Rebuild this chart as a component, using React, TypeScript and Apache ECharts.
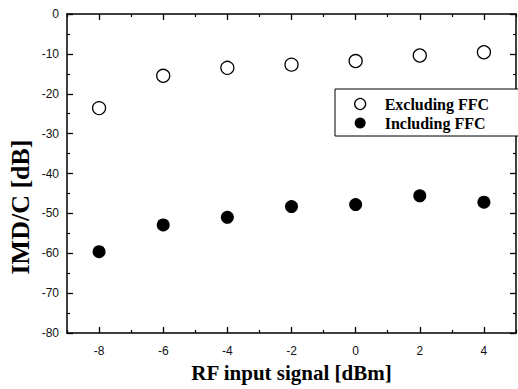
import React, { useEffect, useRef } from "react";
import * as echarts from "echarts";

const xValues = [-8, -6, -4, -2, 0, 2, 4];
const excludingFFC = [-23.6, -15.5, -13.5, -12.7, -11.8, -10.4, -9.6];
const includingFFC = [-59.6, -52.9, -51.0, -48.3, -47.8, -45.6, -47.2];
const xMajorTicks = [-8, -6, -4, -2, 0, 2, 4];
const xMinorTicks = [-9, -7, -5, -3, -1, 1, 3, 5];
const seriesNames = ["Excluding FFC", "Including FFC"];
const xTitle = "RF input signal [dBm]";
const yTitle = "IMD/C [dB]";

export default function App() {
  const ref = useRef<HTMLDivElement>(null);
  useEffect(() => {
    if (!ref.current) return;
    const chart = echarts.init(ref.current, null, { renderer: "svg" });
    const serif = "'Liberation Serif', 'Times New Roman', serif";
    const sans = "'Liberation Sans', Arial, sans-serif";
    const axisLine = { show: true, onZero: false, lineStyle: { color: "#000", width: 1.5 } };
    const noLine = { show: false, onZero: false };
    chart.setOption({
      animation: false,
      backgroundColor: "#fff",
      grid: { left: 67, right: 2, top: 14, bottom: 56, containLabel: false, outerBoundsMode: "none" },
      legend: {
        orient: "vertical",
        left: 335,
        top: 89,
        padding: [7, 30, 5, 19],
        itemGap: 3,
        itemWidth: 11,
        itemHeight: 11,
        borderColor: "#000",
        borderWidth: 1,
        backgroundColor: "#fff",
        textStyle: { fontFamily: serif, fontWeight: "bold", fontSize: 16, color: "#000", padding: [0, 0, 0, 14] },
        data: [
          { name: seriesNames[0], icon: "circle", itemStyle: { color: "#fff", borderColor: "#000", borderWidth: 1.3 } },
          { name: seriesNames[1], icon: "circle", itemStyle: { color: "#000" } },
        ],
      },
      graphic: [
        {
          type: "text",
          x: 20,
          y: 207,
          rotation: Math.PI / 2,
          style: {
            text: yTitle,
            fontFamily: serif,
            fontWeight: "bold",
            fontSize: 26,
            fill: "#000",
            align: "center",
            verticalAlign: "middle",
          },
        },
      ],
      xAxis: [
        {
          type: "value",
          min: -9,
          max: 5,
          position: "bottom",
          axisLine,
          splitLine: { show: false },
          axisTick: { show: true, inside: true, length: 6, customValues: xMajorTicks, lineStyle: { color: "#000", width: 1.3 } },
          axisLabel: { customValues: xMajorTicks, fontFamily: sans, fontSize: 12, color: "#111", margin: 12 },
          name: xTitle,
          nameLocation: "middle",
          nameGap: 29,
          nameTextStyle: { fontFamily: serif, fontWeight: "bold", fontSize: 21, color: "#000" },
        },
        {
          type: "value",
          min: -9,
          max: 5,
          position: "bottom",
          axisLine: noLine,
          splitLine: { show: false },
          axisTick: { show: true, inside: true, length: 3, customValues: xMinorTicks, lineStyle: { color: "#000", width: 1.2 } },
          axisLabel: { show: false },
        },
        {
          type: "value",
          min: -9,
          max: 5,
          position: "top",
          axisLine,
          splitLine: { show: false },
          axisTick: { show: true, inside: true, length: 6, customValues: xMajorTicks, lineStyle: { color: "#000", width: 1.3 } },
          axisLabel: { show: false },
        },
        {
          type: "value",
          min: -9,
          max: 5,
          position: "top",
          axisLine: noLine,
          splitLine: { show: false },
          axisTick: { show: true, inside: true, length: 3, customValues: xMinorTicks, lineStyle: { color: "#000", width: 1.2 } },
          axisLabel: { show: false },
        },
      ],
      yAxis: [
        {
          type: "value",
          min: -80,
          max: 0,
          interval: 10,
          position: "left",
          axisLine,
          splitLine: { show: false },
          axisTick: { show: true, inside: true, length: 6, lineStyle: { color: "#000", width: 1.3 } },
          minorTick: { show: true, splitNumber: 2, length: 3, lineStyle: { color: "#000", width: 1.2 } },
          minorSplitLine: { show: false },
          axisLabel: { fontFamily: sans, fontSize: 12, color: "#111", margin: 8 },
        },
        {
          type: "value",
          min: -80,
          max: 0,
          interval: 10,
          position: "right",
          axisLine,
          splitLine: { show: false },
          axisTick: { show: true, inside: true, length: 6, lineStyle: { color: "#000", width: 1.3 } },
          minorTick: { show: true, splitNumber: 2, length: 3, lineStyle: { color: "#000", width: 1.2 } },
          minorSplitLine: { show: false },
          axisLabel: { show: false },
        },
      ],
      series: [
        {
          name: seriesNames[0],
          type: "scatter",
          xAxisIndex: 0,
          yAxisIndex: 0,
          symbol: "circle",
          symbolSize: 13,
          itemStyle: { color: "#fff", borderColor: "#000", borderWidth: 1.3, opacity: 1 },
          data: xValues.map((x, i) => [x, excludingFFC[i]]),
          z: 3,
        },
        {
          name: seriesNames[1],
          type: "scatter",
          xAxisIndex: 0,
          yAxisIndex: 0,
          symbol: "circle",
          symbolSize: 13,
          itemStyle: { color: "#000", opacity: 1 },
          data: xValues.map((x, i) => [x, includingFFC[i]]),
          z: 3,
        },
      ],
    });
    return () => chart.dispose();
  }, []);
  return <div ref={ref} style={{ width: 518, height: 389, position: "absolute", left: 0, top: 0 }} />;
}
